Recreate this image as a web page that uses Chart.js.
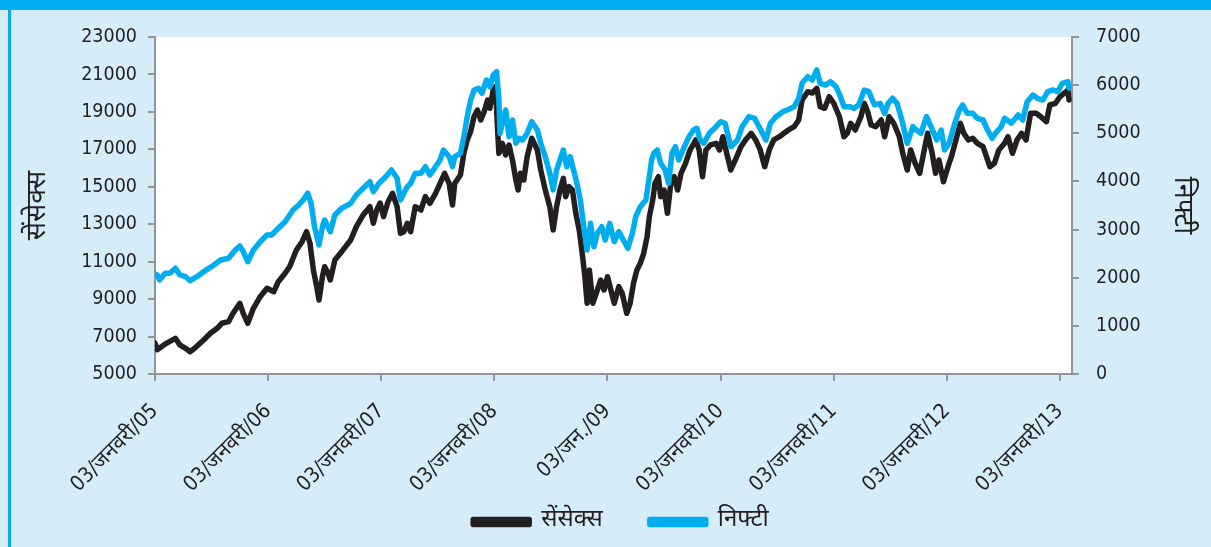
<!DOCTYPE html>
<html><head><meta charset="utf-8">
<script src="https://cdn.jsdelivr.net/npm/chart.js@4.4.1/dist/chart.umd.min.js"></script>
<style>
html,body{margin:0;padding:0;width:1211px;height:547px;overflow:hidden;background:#D6EDF9;}
#band{position:absolute;left:0;top:0;width:1211px;height:10px;background:#00AEEF;}
#lb{position:absolute;left:8px;top:10px;width:3px;height:537px;background:#00AEEF;}
#wrap{position:absolute;left:0;top:0;width:1211px;height:547px;}
</style></head><body>
<div id="band"></div><div id="lb"></div>
<div id="wrap"><canvas id="c" width="1211" height="547"></canvas></div>
<script>
// ---- data (dates as decimal years measured from 3 January of each year) ----
const tickYears = [2005, 2006, 2007, 2008, 2009, 2010, 2011, 2012, 2013];
const tickLabels = ['03/जनवरी/05', '03/जनवरी/06', '03/जनवरी/07', '03/जनवरी/08', '03/जन./09', '03/जनवरी/10', '03/जनवरी/11', '03/जनवरी/12', '03/जनवरी/13'];
const seriesNames = ['सेंसेक्स', 'निफ्टी'];

const sensexDates = [2005.00,2005.02,2005.10,2005.18,2005.22,2005.27,2005.31,2005.35,2005.43,2005.49,2005.55,2005.59,2005.65,2005.69,2005.75,2005.78,2005.82,2005.87,2005.93,2005.99,
2006.05,2006.09,2006.15,2006.19,2006.25,2006.30,2006.34,2006.37,2006.40,2006.43,2006.45,2006.48,2006.50,2006.53,2006.55,2006.59,2006.65,2006.73,2006.78,2006.84,2006.90,2006.93,2006.96,2006.99,
2007.02,2007.06,2007.10,2007.14,2007.17,2007.20,2007.23,2007.26,2007.30,2007.35,2007.39,2007.43,2007.48,2007.52,2007.56,2007.60,2007.63,2007.65,2007.70,2007.73,2007.76,2007.79,2007.82,2007.85,2007.88,2007.91,2007.94,2007.96,2007.99,
2008.01,2008.03,2008.04,2008.07,2008.10,2008.13,2008.16,2008.19,2008.21,2008.23,2008.26,2008.29,2008.33,2008.38,2008.41,2008.45,2008.49,2008.52,2008.55,2008.58,2008.61,2008.63,2008.66,2008.69,2008.72,2008.75,2008.78,2008.80,2008.82,2008.84,2008.87,2008.91,2008.94,2008.97,
2009.00,2009.03,2009.06,2009.10,2009.13,2009.17,2009.20,2009.23,2009.26,2009.29,2009.32,2009.35,2009.37,2009.40,2009.42,2009.45,2009.47,2009.50,2009.53,2009.56,2009.59,2009.62,2009.65,2009.69,2009.73,2009.78,2009.81,2009.84,2009.87,2009.91,2009.96,2009.99,
2010.02,2010.04,2010.09,2010.13,2010.18,2010.22,2010.27,2010.31,2010.35,2010.39,2010.43,2010.47,2010.52,2010.56,2010.60,2010.65,2010.69,2010.72,2010.77,2010.81,2010.85,2010.88,2010.92,2010.96,
2011.00,2011.05,2011.09,2011.12,2011.15,2011.19,2011.24,2011.27,2011.30,2011.33,2011.37,2011.42,2011.45,2011.49,2011.53,2011.58,2011.61,2011.65,2011.68,2011.72,2011.76,2011.80,2011.83,2011.87,2011.90,2011.93,2011.97,
2012.01,2012.04,2012.08,2012.12,2012.15,2012.19,2012.23,2012.27,2012.32,2012.35,2012.38,2012.42,2012.46,2012.51,2012.54,2012.58,2012.62,2012.66,2012.70,2012.74,2012.79,2012.83,2012.88,2012.91,2012.96,
2013.00,2013.04,2013.07,2013.08];
const sensexValues = [6650,6300,6640,6907,6550,6373,6192,6373,6817,7175,7442,7709,7794,8243,8777,8243,7709,8510,9129,9578,
9397,9931,10379,10732,11624,12067,12601,11982,10556,9664,8953,10198,10732,10379,10021,11090,11533,12158,12868,13493,13936,13050,13760,14134,
13402,14203,14652,13936,12516,12601,13050,12601,13936,13760,14470,14118,14652,15186,15720,15186,14027,15186,15629,16788,17499,17942,18743,19101,18567,19010,19635,19192,20169,
20346,17857,16788,17323,16698,17232,16431,15362,14828,15720,15362,16607,17590,16965,15897,14828,13936,12692,13936,14828,15453,14470,15005,14828,13584,12692,11266,10198,8777,10556,8777,9487,10021,9487,
10198,9487,8777,9664,9311,8243,8777,9845,10556,10913,11447,12334,13402,14294,15186,15539,14470,14828,13584,15186,15539,14828,15720,16254,16965,17499,16965,15539,16965,17232,17323,16965,
17675,17141,15897,16431,17141,17499,17857,17499,16965,16073,16965,17499,17675,17857,18033,18209,18567,19635,20078,20009,20260,19277,19192,19811,
19459,18743,17675,17857,18391,18033,18743,19459,19010,18299,18209,18567,17675,18743,18391,17675,16788,15897,16965,16254,15720,16965,17857,16788,15720,16431,15272,
16073,16607,17499,18391,17857,17499,17590,17323,17141,16607,16073,16254,16965,17323,17675,16788,17499,17857,17499,18925,18925,18743,18476,19368,19459,
19811,20009,20169,19635];

const niftyDates = [2005.00,2005.02,2005.04,2005.09,2005.13,2005.18,2005.22,2005.27,2005.31,2005.37,2005.43,2005.50,2005.58,2005.65,2005.71,2005.75,2005.78,2005.82,2005.87,2005.93,2005.99,
2006.03,2006.09,2006.15,2006.22,2006.27,2006.31,2006.35,2006.38,2006.41,2006.45,2006.48,2006.50,2006.55,2006.59,2006.65,2006.73,2006.78,2006.84,2006.90,2006.93,2006.98,
2007.04,2007.09,2007.14,2007.17,2007.20,2007.23,2007.26,2007.30,2007.35,2007.39,2007.43,2007.48,2007.52,2007.55,2007.60,2007.63,2007.65,2007.70,2007.73,2007.76,2007.79,2007.82,2007.86,2007.89,2007.93,2007.96,2007.99,
2008.02,2008.04,2008.05,2008.07,2008.10,2008.13,2008.16,2008.19,2008.22,2008.25,2008.29,2008.33,2008.38,2008.41,2008.45,2008.49,2008.52,2008.55,2008.58,2008.61,2008.64,2008.67,2008.70,2008.73,2008.76,2008.79,2008.82,2008.85,2008.88,2008.91,2008.95,2008.98,
2009.02,2009.06,2009.10,2009.14,2009.18,2009.22,2009.25,2009.29,2009.34,2009.37,2009.39,2009.41,2009.44,2009.47,2009.51,2009.54,2009.57,2009.60,2009.63,2009.68,2009.72,2009.76,2009.79,2009.82,2009.85,2009.90,2009.96,
2010.00,2010.04,2010.09,2010.15,2010.19,2010.25,2010.30,2010.34,2010.40,2010.44,2010.49,2010.55,2010.59,2010.65,2010.69,2010.72,2010.77,2010.81,2010.85,2010.88,2010.93,2010.97,
2011.02,2011.06,2011.09,2011.14,2011.18,2011.22,2011.27,2011.31,2011.36,2011.41,2011.45,2011.48,2011.52,2011.56,2011.61,2011.65,2011.70,2011.73,2011.77,2011.82,2011.86,2011.91,2011.95,2011.98,
2012.02,2012.07,2012.11,2012.14,2012.18,2012.23,2012.27,2012.32,2012.36,2012.40,2012.43,2012.48,2012.51,2012.57,2012.63,2012.67,2012.71,2012.76,2012.80,2012.85,2012.89,2012.94,2012.98,
2013.02,2013.07,2013.08];
const niftyValues = [2080,2057,1953,2092,2092,2196,2057,2021,1938,2021,2125,2229,2368,2404,2576,2659,2541,2333,2576,2748,2887,
2887,3027,3164,3407,3511,3615,3754,3546,3060,2680,3060,3199,2956,3303,3442,3546,3718,3857,3995,3787,3961,
4098,4238,4065,3615,3754,3891,3961,4169,4169,4306,4134,4306,4445,4653,4514,4306,4514,4584,4929,5345,5691,5899,5934,5831,6107,5968,6211,
6279,5691,5000,5208,5484,4929,5276,4792,4896,4861,5000,5241,5068,4792,4514,4169,3822,4238,4445,4653,4306,4514,4238,3961,3615,3060,2576,3130,2644,2923,3060,2784,
3130,2750,2956,2784,2611,2923,3268,3476,3615,4098,4445,4584,4653,4376,4238,3961,4584,4722,4445,4722,4929,5068,5104,4861,4792,5000,5137,
5241,5208,4722,4861,5137,5345,5311,5137,4861,5208,5345,5449,5484,5552,5727,6038,6175,6107,6315,6038,6003,6072,
5968,5760,5552,5552,5519,5588,5899,5864,5588,5623,5415,5623,5727,5623,5208,4792,5137,5068,5000,5345,5137,4861,5068,4653,
4792,5208,5484,5588,5415,5415,5311,5276,5068,4896,5000,5137,5311,5208,5380,5276,5656,5795,5727,5691,5864,5899,5864,
6038,6072,5941];

// ---- styling ----
const TXT = '#231F20';
const AXIS = '#939598';
const NUM_FONT = "'Liberation Sans Narrow', 'DejaVu Sans Condensed', 'Noto Sans Devanagari', sans-serif";
const DEV_FONT = "'Noto Sans Devanagari', 'Lohit Devanagari', 'FreeSans', sans-serif";
const X_AXIS_GAP = 89;   // distance from plot bottom to top of legend box

const plotBg = {
  id: 'plotBg',
  beforeDraw(chart) {
    const {ctx, chartArea: a} = chart;
    ctx.save(); ctx.fillStyle = '#FFFFFF';
    ctx.fillRect(a.left, a.top, a.right - a.left, a.bottom - a.top);
    ctx.restore();
  }
};
// lift the legend so it sits close under the rotated date labels
const legendLift = {
  id: 'legendLift',
  afterLayout(chart) {
    const L = chart.legend;
    if (!L) return;
    const d = L.top - (chart.chartArea.bottom + X_AXIS_GAP);
    L.top -= d; L.bottom -= d;
  }
};

new Chart(document.getElementById('c'), {
  type: 'line',
  data: {
    datasets: [
      { label: seriesNames[0], data: sensexDates.map((d, i) => ({x: d, y: sensexValues[i]})),
        yAxisID: 'y', borderColor: '#231F20', backgroundColor: '#231F20', borderWidth: 5.5, order: 1 },
      { label: seriesNames[1], data: niftyDates.map((d, i) => ({x: d, y: niftyValues[i]})),
        yAxisID: 'y1', borderColor: '#00AEEF', backgroundColor: '#00AEEF', borderWidth: 5.5, order: 0 }
    ]
  },
  options: {
    responsive: false,
    animation: false,
    elements: { point: { radius: 0 }, line: { tension: 0, borderJoinStyle: 'round', borderCapStyle: 'round' } },
    layout: { padding: { left: 34, right: 3, top: 37, bottom: -33 } },
    plugins: {
      tooltip: { enabled: false },
      legend: {
        position: 'bottom',
        labels: {
          boxWidth: 56, boxHeight: 5, padding: 47, color: TXT,
          font: { family: DEV_FONT, size: 24 },
          sort: (a, b) => a.datasetIndex - b.datasetIndex
        }
      }
    },
    scales: {
      x: {
        type: 'linear', min: 2005, max: 2013 + 12 / 113,
        afterBuildTicks(s) { s.ticks = tickYears.map(v => ({ value: v })); },
        afterFit(s) { s.height = 125; },
        ticks: { autoSkip: false, minRotation: 45, maxRotation: 45, padding: 18, color: TXT,
          font: { family: NUM_FONT, size: 21 },
          callback(v) { const k = tickYears.indexOf(v); return k >= 0 ? tickLabels[k] : ''; } },
        grid: { drawOnChartArea: false, drawTicks: true, tickLength: 7, color: AXIS, lineWidth: 2 },
        border: { color: AXIS, width: 2 }
      },
      y: {
        position: 'left', min: 5000, max: 23000,
        afterFit(s) { s.width = 121; },
        ticks: { stepSize: 2000, padding: 11, color: TXT, font: { family: NUM_FONT, size: 19.5 },
          callback(v) { return String(v); } },
        grid: { drawOnChartArea: false, tickLength: 7, color: AXIS, lineWidth: 2 },
        border: { color: AXIS, width: 2 },
        title: { display: true, text: seriesNames[0], color: TXT, font: { family: DEV_FONT, size: 27 }, padding: { top: -10, bottom: 0 } }
      },
      y1: {
        position: 'right', min: 0, max: 7000,
        afterFit(s) { s.width = 136; },
        ticks: { stepSize: 1000, padding: 17, color: TXT, font: { family: NUM_FONT, size: 19.5 },
          callback(v) { return String(v); } },
        grid: { drawOnChartArea: false, tickLength: 7, color: AXIS, lineWidth: 2 },
        border: { color: AXIS, width: 2 },
        title: { display: true, text: seriesNames[1], color: TXT, font: { family: DEV_FONT, size: 27 }, padding: { top: 12, bottom: 0 } }
      }
    }
  },
  plugins: [plotBg, legendLift]
});
</script>
</body></html>
